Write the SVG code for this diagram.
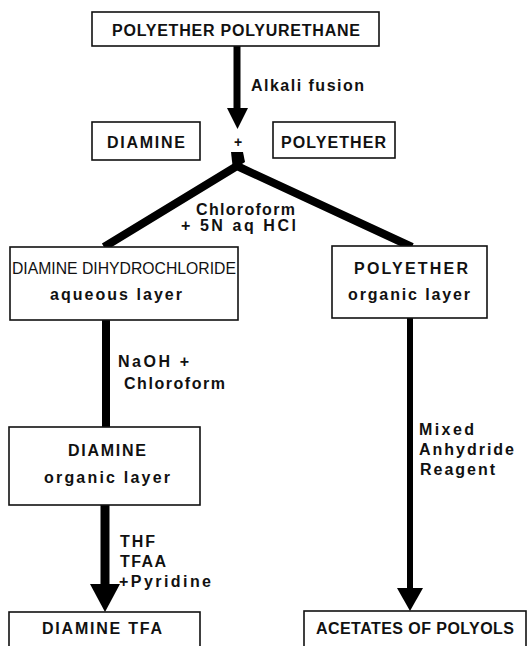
<svg xmlns="http://www.w3.org/2000/svg" width="529" height="646" viewBox="0 0 529 646">
<style>
.box{fill:#fff;stroke:#111;stroke-width:1.6}
.t{font-family:"Liberation Sans",Arial,sans-serif;font-size:16px;font-weight:bold;fill:#111}
.c{text-anchor:middle}
.ln{stroke:#000;fill:none}
.ah{fill:#000}
</style>
<rect width="529" height="646" fill="#fff"/>
<g id="connectors">
<line class="ln" x1="237" y1="46" x2="237" y2="112" stroke-width="7"/>
<polygon class="ah" points="227,108 248,108 237.5,129"/>
<path class="ln" d="M237,153 L237,166 M104,247 L237,166 L412,247" stroke-width="8" stroke-linejoin="round"/>
<path class="ah" d="M231,152 L243,152 L245,162 L233,170 Z"/>
<line class="ln" x1="106" y1="320" x2="106" y2="428" stroke-width="8"/>
<line class="ln" x1="105" y1="505" x2="105" y2="588" stroke-width="9"/>
<polygon class="ah" points="90,584 120,584 105,612"/>
<line class="ln" x1="410" y1="318" x2="410" y2="592" stroke-width="6"/>
<polygon class="ah" points="397,588 423,588 410,611"/>
<text class="t" x="251" y="91" textLength="113" lengthAdjust="spacing">Alkali fusion</text>
<text class="t" x="196" y="215" textLength="99" lengthAdjust="spacing">Chloroform</text>
<text class="t" x="181" y="231" textLength="115" lengthAdjust="spacing">+ 5N aq HCl</text>
<text class="t" x="118" y="367" textLength="71" lengthAdjust="spacing">NaOH +</text>
<text class="t" x="124" y="389" textLength="101" lengthAdjust="spacing">Chloroform</text>
<text class="t" x="120" y="547" textLength="35" lengthAdjust="spacing">THF</text>
<text class="t" x="120" y="567" textLength="46" lengthAdjust="spacing">TFAA</text>
<text class="t" x="119" y="587" textLength="92" lengthAdjust="spacing">+Pyridine</text>
<text class="t" x="419" y="435" textLength="55" lengthAdjust="spacing">Mixed</text>
<text class="t" x="419" y="455" textLength="95" lengthAdjust="spacing">Anhydride</text>
<text class="t" x="420" y="475" textLength="75" lengthAdjust="spacing">Reagent</text>
</g>
<g id="polyurethane">
<rect class="box" x="92" y="12" width="287" height="34"/>
<text class="t" x="112" y="36" textLength="248" lengthAdjust="spacing">POLYETHER POLYURETHANE</text>
</g>
<g id="diamine1">
<rect class="box" x="92" y="122" width="108" height="38"/>
<text class="t" x="107" y="148" textLength="78" lengthAdjust="spacing">DIAMINE</text>
</g>
<g id="plus">
<text class="t c" x="238" y="147" style="font-size:14px">+</text>
</g>
<g id="polyether1">
<rect class="box" x="273" y="122" width="122" height="36"/>
<text class="t" x="281" y="148" textLength="105" lengthAdjust="spacing">POLYETHER</text>
</g>
<g id="dihydrochloride">
<rect class="box" x="10" y="247" width="228" height="73"/>
<text class="t" x="12" y="274" textLength="224" lengthAdjust="spacingAndGlyphs" style="font-weight:normal">DIAMINE DIHYDROCHLORIDE</text>
<text class="t" x="50" y="300" textLength="132" lengthAdjust="spacing">aqueous layer</text>
</g>
<g id="polyether2">
<rect class="box" x="332" y="246" width="155" height="72"/>
<text class="t" x="354" y="274" textLength="114" lengthAdjust="spacing">POLYETHER</text>
<text class="t" x="348" y="300" textLength="122" lengthAdjust="spacing">organic layer</text>
</g>
<g id="diamine2">
<rect class="box" x="9" y="427" width="191" height="78"/>
<text class="t" x="68" y="456" textLength="78" lengthAdjust="spacing">DIAMINE</text>
<text class="t" x="44" y="483" textLength="126" lengthAdjust="spacing">organic layer</text>
</g>
<g id="diaminetfa">
<rect class="box" x="9" y="612" width="191" height="50"/>
<text class="t" x="42" y="634" textLength="120" lengthAdjust="spacing">DIAMINE TFA</text>
</g>
<g id="acetates">
<rect class="box" x="304" y="611" width="222" height="50"/>
<text class="t" x="316" y="634" textLength="198" lengthAdjust="spacing">ACETATES OF POLYOLS</text>
</g>
</svg>
